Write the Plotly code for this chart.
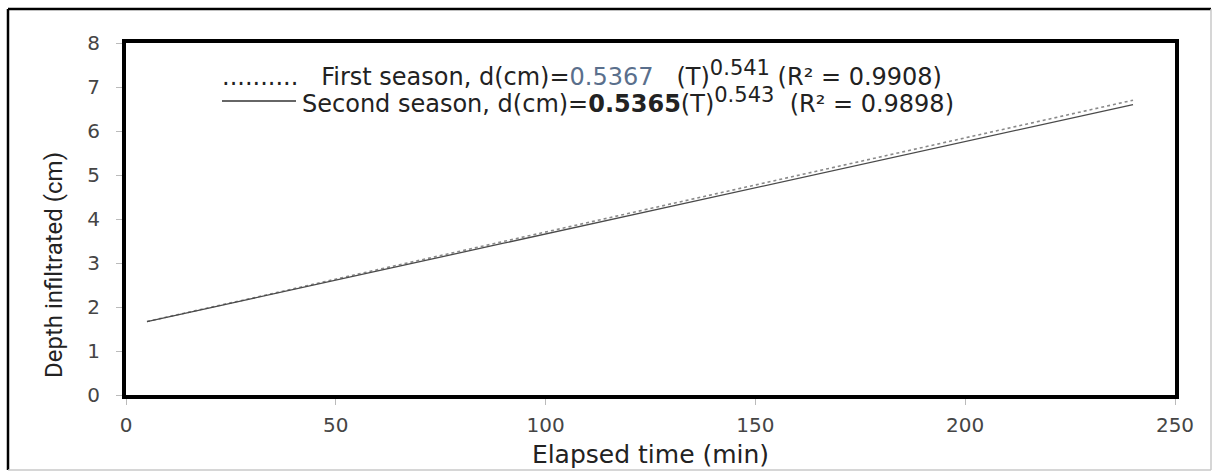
import plotly.graph_objects as go

# Data
time_min = [5, 10, 15, 20, 30, 45, 60, 90, 120, 150, 180, 210, 240]
first_season = [1.67, 1.78, 1.88, 1.99, 2.20, 2.53, 2.85, 3.49, 4.13, 4.77, 5.42, 6.06, 6.70]
second_season = [1.67, 1.77, 1.88, 1.98, 2.19, 2.50, 2.82, 3.45, 4.08, 4.71, 5.34, 5.97, 6.60]
x_ticks = [0, 50, 100, 150, 200, 250]
y_ticks = [0, 1, 2, 3, 4, 5, 6, 7, 8]

W, H = 1213, 473
ML, MR, MT, MB = 126, 38, 43, 78
PW, PH = W - ML - MR, H - MT - MB


def px_x(p):
    return (p - ML) / PW


def px_y(p):
    return (H - MB - p) / PH


fig = go.Figure()
fig.add_trace(go.Scatter(x=time_min, y=first_season, mode="lines",
                         line=dict(color="#8a8a8a", width=1.6, dash="dot"),
                         showlegend=False))
fig.add_trace(go.Scatter(x=time_min, y=second_season, mode="lines",
                         line=dict(color="#4a4a4a", width=1.3),
                         showlegend=False))

tickfont = dict(family="DejaVu Sans", size=20, color="#454545")
fig.update_xaxes(range=[0, 250], tickvals=x_ticks, showgrid=False, zeroline=False,
                 showline=True, linecolor="black", linewidth=4, mirror=True,
                 ticks="outside", ticklen=6, tickcolor="#bbbbbb", tickwidth=1,
                 tickfont=tickfont, ticklabelstandoff=3, automargin=False,
                 title=dict(text="Elapsed time (min)", standoff=10,
                            font=dict(family="DejaVu Sans", size=25, color="#222222")))
fig.update_yaxes(range=[0, 8], tickvals=y_ticks, showgrid=False, zeroline=False,
                 showline=True, linecolor="black", linewidth=4, mirror=True,
                 ticks="outside", ticklen=6, tickcolor="#bbbbbb", tickwidth=1,
                 tickfont=tickfont, ticklabelstandoff=12, automargin=False)

# y-axis title (placed like the reference, below the plot's centre)
fig.add_annotation(xref="paper", yref="paper", x=px_x(54), y=px_y(265),
                   xanchor="center", yanchor="middle", showarrow=False, textangle=-90,
                   text="Depth infiltrated (cm)",
                   font=dict(family="Liberation Sans Narrow, Roboto", size=24, color="#222222"))

sup = "<sup><span style='font-size:{}px'>{}</span></sup>"
fig.add_annotation(xref="paper", yref="paper", x=px_x(220), y=px_y(74),
                   xanchor="left", yanchor="middle", showarrow=False,
                   font=dict(family="DejaVu Sans", size=24, color="#222222"),
                   text="..........&nbsp;&nbsp;&nbsp;First season, d(cm)=<span style='color:#5a6f8c'>0.5367</span>&nbsp;&nbsp;&nbsp;(T)"
                        + sup.format(21, "0.541") + "&nbsp;(R² = 0.9908)")
fig.add_annotation(xref="paper", yref="paper", x=px_x(300), y=px_y(100),
                   xanchor="left", yanchor="middle", showarrow=False,
                   font=dict(family="DejaVu Sans", size=24, color="#222222"),
                   text="Second season, d(cm)=<b>0.5365</b>(T)" + sup.format(21, "0.543") + "&nbsp;&nbsp;(R² = 0.9898)")
fig.add_shape(type="line", xref="paper", yref="paper", x0=px_x(222), x1=px_x(296),
              y0=px_y(101), y1=px_y(101), line=dict(color="#333333", width=1.5))

# outer frame
fx0, fx1, fy0, fy1 = px_x(8), px_x(1211), px_y(470), px_y(9)
fig.add_shape(type="line", xref="paper", yref="paper", x0=fx0, x1=fx1, y0=fy1, y1=fy1,
              line=dict(color="black", width=2.5))
fig.add_shape(type="line", xref="paper", yref="paper", x0=fx0, x1=fx0, y0=fy0, y1=fy1,
              line=dict(color="black", width=2.5))
fig.add_shape(type="line", xref="paper", yref="paper", x0=fx1, x1=fx1, y0=fy0, y1=fy1,
              line=dict(color="#c8c8c8", width=1.5))
fig.add_shape(type="line", xref="paper", yref="paper", x0=fx0, x1=fx1, y0=fy0, y1=fy0,
              line=dict(color="#c8c8c8", width=1.5))

fig.update_layout(width=W, height=H, margin=dict(l=ML, r=MR, t=MT, b=MB, autoexpand=False),
                  paper_bgcolor="white", plot_bgcolor="white", showlegend=False)

fig.write_html("out.html", config={"displayModeBar": False},
               post_script="document.body.style.margin='0';")
